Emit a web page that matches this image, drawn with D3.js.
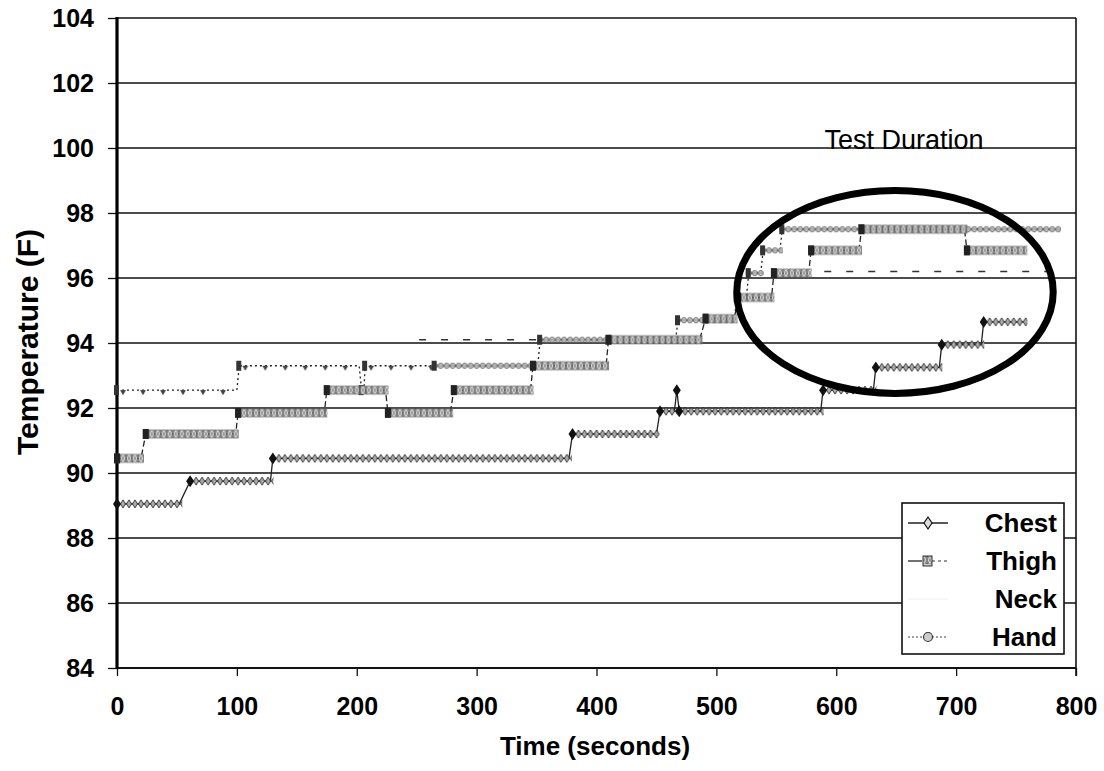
<!DOCTYPE html>
<html><head><meta charset="utf-8">
<script src="https://cdn.jsdelivr.net/npm/d3@7"></script>
<style>body{margin:0;background:#fff} text{font-family:"Liberation Sans",Arial,sans-serif}</style>
</head><body><svg id="c" width="1104" height="771"></svg>
<script>
// ---------- data ----------
const xTicks = [0, 100, 200, 300, 400, 500, 600, 700, 800];
const yTicks = [84, 86, 88, 90, 92, 94, 96, 98, 100, 102, 104];
const seriesNames = ["Chest", "Thigh", "Neck", "Hand"];
const xTitle = "Time (seconds)";
const yTitle = "Temperature (F)";
const noteText = "Test Duration";

// each series: flat levels (start time, end time, temperature)
const chestStart = [0, 61, 130, 380, 453, 467, 469, 589, 633, 688, 723];
const chestEnd   = [52, 128, 377, 450, 465, 467, 587, 631, 686, 721, 757];
const chestTemp  = [89.05, 89.75, 90.45, 91.2, 91.9, 92.55, 91.9, 92.55, 93.25, 93.95, 94.65];

const thighStart = [0, 24, 101, 175, 226, 281, 347, 410, 491, 518, 548, 579, 621, 709];
const thighEnd   = [20, 99, 173, 224, 278, 345, 408, 486, 515, 546, 577, 619, 707, 757];
const thighTemp  = [90.45, 91.2, 91.85, 92.55, 91.85, 92.55, 93.3, 94.1, 94.75, 95.4, 96.15, 96.85, 97.5, 96.85];

const neckStart = [252, 590];
const neckEnd   = [352, 785];
const neckTemp  = [94.1, 96.2];

const handStart = [0, 102, 204, 207, 265, 353, 468, 517, 527, 539, 555];
const handEnd   = [100, 202, 206, 263, 351, 466, 515, 525, 537, 553, 785];
const handTemp  = [92.55, 93.3, 92.55, 93.3, 93.3, 94.1, 94.7, 95.4, 96.15, 96.85, 97.5];
const handSparse = [true, true, true, true, false, false, false, false, false, false, false];

// annotation ellipse (data units): centre time, centre temp, half-width (s), half-height (F)
const ringTime = 649, ringTemp = 95.57, ringHalfTime = 132, ringHalfTemp = 3.12;

// ---------- drawing ----------
const svg = d3.select("#c");
svg.append("rect").attr("width", 1104).attr("height", 771).attr("fill", "#fff");
const x = d3.scaleLinear().domain([0, 800]).range([117, 1076]);
const y = d3.scaleLinear().domain([84, 104]).range([668, 18]);

const defs = svg.append("defs");
function pat(id, w, h, draw) {
  const p = defs.append("pattern").attr("id", id).attr("patternUnits", "userSpaceOnUse")
    .attr("width", w).attr("height", h).attr("x", -3).attr("y", -h / 2);
  draw(p);
}
pat("pChest", 6, 10, p => {
  p.append("path").attr("d", "M3,1 L5.6,5 L3,9 L0.4,5Z").attr("fill", "#aaa").attr("stroke", "#111").attr("stroke-width", 0.8);
});
pat("pThigh", 6, 10, p => {
  p.append("rect").attr("x", 0.6).attr("y", 1).attr("width", 4.8).attr("height", 8).attr("fill", "#d4d4d4").attr("stroke", "#555").attr("stroke-width", 0.7);
  p.append("path").attr("d", "M0.6,1 L5.4,9 M5.4,1 L0.6,9").attr("stroke", "#666").attr("stroke-width", 0.6);
});
pat("pHand", 6, 10, p => {
  p.append("circle").attr("cx", 3).attr("cy", 5).attr("r", 2.6).attr("fill", "#ccc").attr("stroke", "#555").attr("stroke-width", 0.8);
  p.append("path").attr("d", "M0.5,5 L5.5,5").attr("stroke", "#666").attr("stroke-width", 0.6);
});
pat("pHandSparse", 20, 10, p => {
  p.append("path").attr("d", "M6,5 L12,5 L9,10Z").attr("fill", "#444");
});

// gridlines
svg.append("g").selectAll("line").data(yTicks.filter(d => d > 84 && d < 104)).join("line")
  .attr("x1", x(0)).attr("x2", x(800)).attr("y1", d => y(d)).attr("y2", d => y(d))
  .attr("stroke", "#111").attr("stroke-width", 1.3);

// axes
const yAx = svg.append("g").attr("transform", `translate(${x(0)},0)`)
  .call(d3.axisLeft(y).tickValues(yTicks).tickSize(9).tickPadding(14).tickFormat(d3.format("d")));
const xAx = svg.append("g").attr("transform", `translate(0,${y(84)})`)
  .call(d3.axisBottom(x).tickValues(xTicks).tickSize(8).tickPadding(21).tickFormat(d3.format("d")));
[yAx, xAx].forEach(g => {
  g.select(".domain").remove();
  g.selectAll(".tick line").attr("stroke", "#111").attr("stroke-width", 1.3);
  g.selectAll(".tick text").attr("font-size", 25).attr("font-weight", "bold").attr("fill", "#000")
    .style("font-family", "'Liberation Sans', Arial, sans-serif");
});
// frame
svg.append("line").attr("x1", x(0)).attr("x2", x(800)).attr("y1", y(104)).attr("y2", y(104)).attr("stroke", "#111").attr("stroke-width", 1.6);
svg.append("line").attr("x1", x(800)).attr("x2", x(800)).attr("y1", y(104)).attr("y2", y(84) + 8).attr("stroke", "#111").attr("stroke-width", 1.6);
svg.append("line").attr("x1", x(0)).attr("x2", x(800)).attr("y1", y(84)).attr("y2", y(84)).attr("stroke", "#111").attr("stroke-width", 2.2);
svg.append("line").attr("x1", x(0)).attr("x2", x(0)).attr("y1", y(104) - 1).attr("y2", y(84) + 1).attr("stroke", "#000").attr("stroke-width", 3.2);

// series
const line = d3.line().x(d => x(d[0])).y(d => y(d[1]));
function levels(st, en, tp) { return st.map((s, i) => ({ s, e: en[i], t: tp[i], i })); }
function verts(lv) { return lv.flatMap(l => [[l.s, l.t], [l.e, l.t]]); }

// neck: faint dashed line, no markers
svg.append("g").selectAll("line").data(levels(neckStart, neckEnd, neckTemp)).join("line")
  .attr("x1", d => x(d.s)).attr("x2", d => x(d.e)).attr("y1", d => y(d.t)).attr("y2", d => y(d.t))
  .attr("stroke", "#333").attr("stroke-width", 1.6).attr("stroke-dasharray", "7,15");

const series = [
  { lv: levels(handStart, handEnd, handTemp), pat: i => handSparse[i] ? "pHandSparse" : "pHand", dash: "2,3", shape: "circle" },
  { lv: levels(thighStart, thighEnd, thighTemp), pat: () => "pThigh", dash: "6,3", shape: "square" },
  { lv: levels(chestStart, chestEnd, chestTemp), pat: () => "pChest", dash: null, shape: "diamond" }
];
series.forEach(sr => {
  const g = svg.append("g");
  g.append("path").attr("d", line(verts(sr.lv))).attr("fill", "none").attr("stroke", "#222")
    .attr("stroke-width", 1.3).attr("stroke-dasharray", sr.dash);
  g.selectAll("rect.band").data(sr.lv.filter(l => l.e > l.s)).join("rect").attr("class", "band")
    .attr("transform", d => `translate(${x(d.s)},${y(d.t)})`)
    .attr("x", -3).attr("y", -5).attr("width", d => x(d.e) - x(d.s) + 6).attr("height", 10)
    .attr("fill", d => `url(#${sr.pat(d.i)})`);
  const m = g.selectAll("g.m").data(sr.lv).join("g").attr("class", "m")
    .attr("transform", d => `translate(${x(d.s)},${y(d.t)})`);
  if (sr.shape === "diamond") m.append("path").attr("d", "M0,-6 L4,0 L0,6 L-4,0Z").attr("fill", "#111");
  if (sr.shape === "square") m.append("rect").attr("x", -3).attr("y", -5).attr("width", 6).attr("height", 10).attr("fill", "#222");
  if (sr.shape === "circle") m.append("rect").attr("x", -3).attr("y", -5).attr("width", 5).attr("height", 10).attr("fill", "#333");
});

// annotation
svg.append("ellipse").attr("cx", x(ringTime)).attr("cy", y(ringTemp))
  .attr("rx", x(ringHalfTime) - x(0)).attr("ry", y(ringTemp - ringHalfTemp) - y(ringTemp))
  .attr("fill", "none").attr("stroke", "#000").attr("stroke-width", 7);
svg.append("text").attr("x", 904).attr("y", 149).attr("text-anchor", "middle")
  .attr("font-size", 27).attr("fill", "#000").text(noteText);

// titles
svg.append("text").attr("x", 595).attr("y", 755).attr("text-anchor", "middle")
  .attr("font-size", 26).attr("font-weight", "bold").text(xTitle);
svg.append("text").attr("transform", "translate(38,342) rotate(-90)").attr("text-anchor", "middle")
  .attr("font-size", 30).attr("font-weight", "bold").text(yTitle);

// legend
const lg = svg.append("g");
lg.append("rect").attr("x", 902).attr("y", 503).attr("width", 162).attr("height", 151)
  .attr("fill", "#fff").attr("stroke", "#111").attr("stroke-width", 1.6);
const rowY = [523, 561, 599, 637];
lg.selectAll("text").data(seriesNames).join("text")
  .attr("x", 1057).attr("y", (d, i) => rowY[i] + 9).attr("text-anchor", "end")
  .attr("font-size", 26).attr("font-weight", "bold").attr("fill", "#000").text(d => d);
// chest sample
lg.append("line").attr("x1", 908).attr("x2", 948).attr("y1", rowY[0]).attr("y2", rowY[0]).attr("stroke", "#222").attr("stroke-width", 1.3);
lg.append("path").attr("d", `M928,${rowY[0] - 6} L932,${rowY[0]} L928,${rowY[0] + 6} L924,${rowY[0]}Z`).attr("fill", "#ddd").attr("stroke", "#111").attr("stroke-width", 1.2);
// thigh sample
lg.append("line").attr("x1", 908).attr("x2", 922).attr("y1", rowY[1]).attr("y2", rowY[1]).attr("stroke", "#222").attr("stroke-width", 1.3);
lg.append("line").attr("x1", 932).attr("x2", 948).attr("y1", rowY[1]).attr("y2", rowY[1]).attr("stroke", "#333").attr("stroke-width", 1.2).attr("stroke-dasharray", "3,3");
lg.append("rect").attr("x", 923).attr("y", rowY[1] - 5).attr("width", 9).attr("height", 10).attr("fill", "url(#pThigh)").attr("stroke", "#333").attr("stroke-width", 1);
// neck sample (faint)
lg.append("line").attr("x1", 908).attr("x2", 948).attr("y1", rowY[2]).attr("y2", rowY[2]).attr("stroke", "#eee").attr("stroke-width", 1);
// hand sample
lg.append("line").attr("x1", 908).attr("x2", 948).attr("y1", rowY[3]).attr("y2", rowY[3]).attr("stroke", "#444").attr("stroke-width", 1.2).attr("stroke-dasharray", "2,2");
lg.append("circle").attr("cx", 928).attr("cy", rowY[3]).attr("r", 4.5).attr("fill", "#ccc").attr("stroke", "#333").attr("stroke-width", 1.1);
</script>
</body></html>
